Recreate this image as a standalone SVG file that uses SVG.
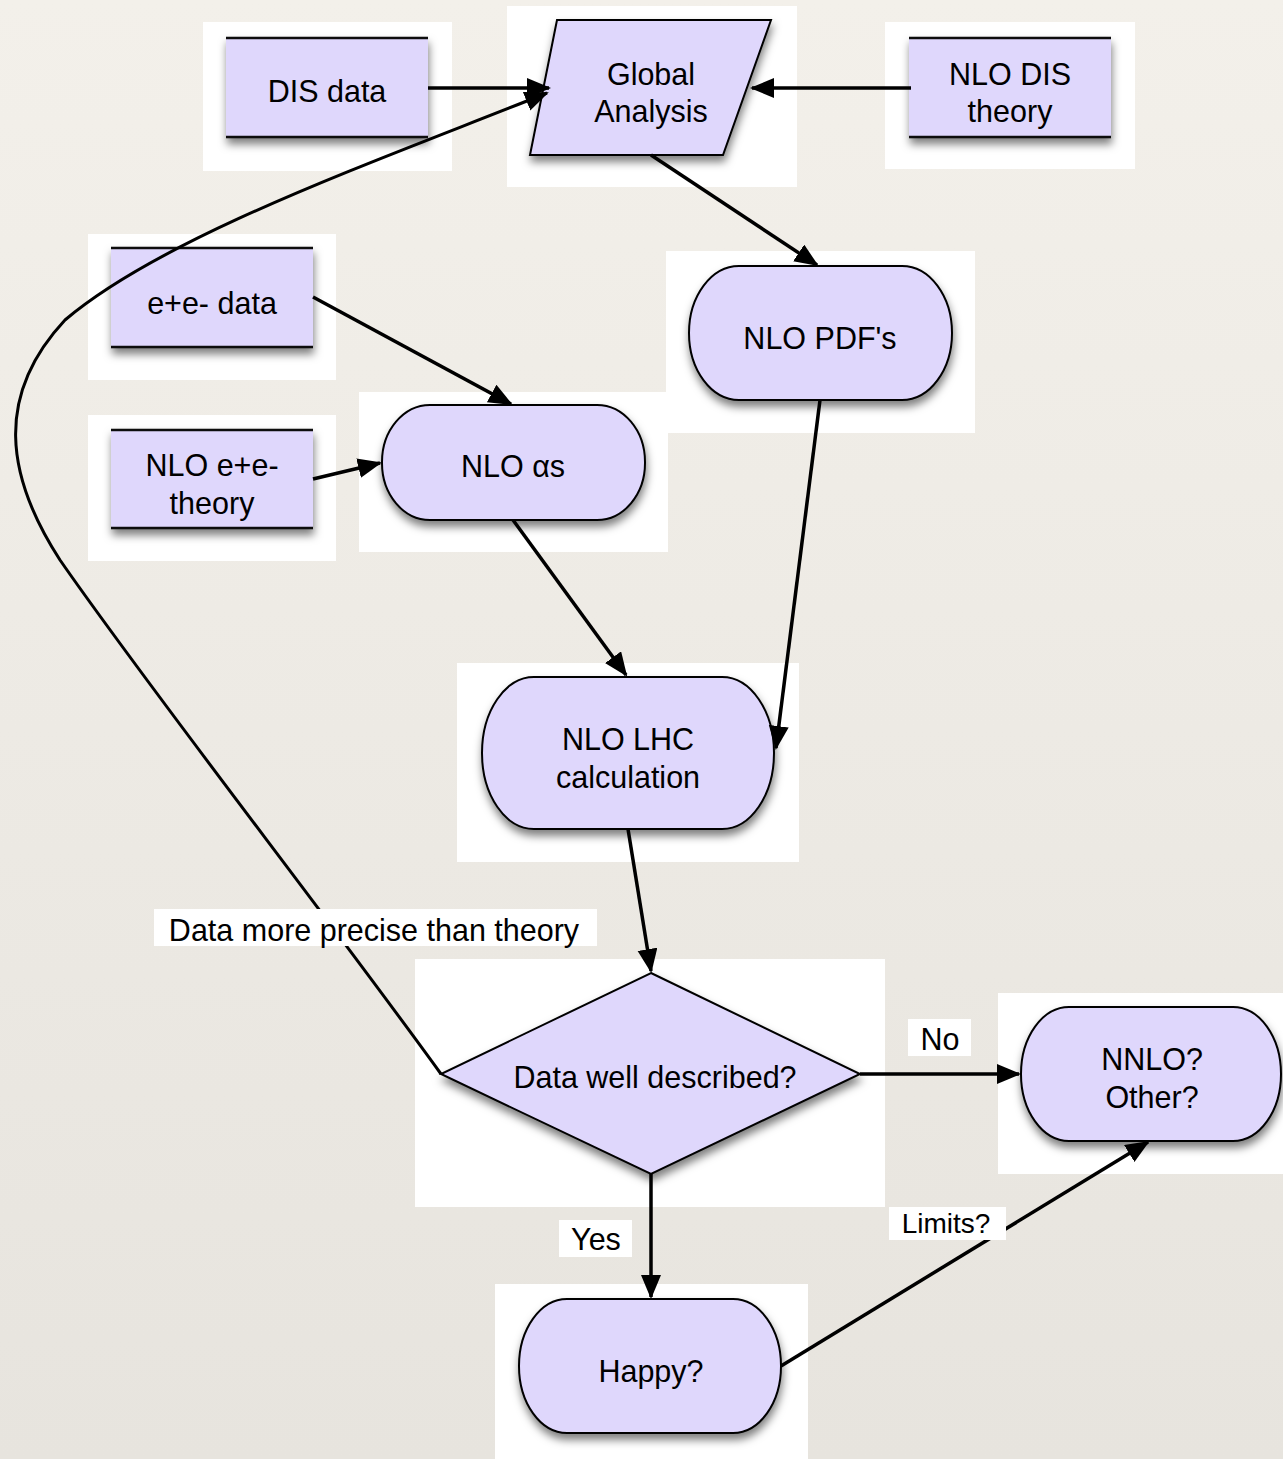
<svg xmlns="http://www.w3.org/2000/svg" width="1283" height="1459" viewBox="0 0 1283 1459">
<defs>
<linearGradient id="bgg" x1="0" y1="0" x2="0" y2="1">
<stop offset="0" stop-color="#f3f0ea"/>
<stop offset="1" stop-color="#e7e4de"/>
</linearGradient>
<filter id="sh" x="-10%" y="-10%" width="125%" height="135%">
<feDropShadow dx="1" dy="6" stdDeviation="4" flood-color="#000" flood-opacity="0.5"/>
</filter>
<marker id="ah" markerUnits="userSpaceOnUse" markerWidth="26" markerHeight="22" refX="22" refY="10" orient="auto">
<path d="M0,0 L24,10 L0,20 z" fill="#000"/>
</marker>
<style>
.bg{fill:#ffffff}
.fill{fill:#dfd7fc}
.shape{fill:#dfd7fc;stroke:#000;stroke-width:2}
.edge{stroke:#111;stroke-width:2.5}
.t{font-family:"Liberation Sans",Arial,Helvetica,sans-serif;font-size:30.5px;fill:#000;text-anchor:middle}
.ts{font-family:"Liberation Sans",Arial,Helvetica,sans-serif;font-size:28px;fill:#000;text-anchor:middle}
.c{fill:none;stroke:#000;stroke-width:3.5;marker-end:url(#ah)}
.cv{fill:none;stroke:#000;stroke-width:3;marker-end:url(#ah)}
</style>
</defs>
<rect x="0" y="0" width="1283" height="1459" fill="url(#bgg)"/>

<g id="node-dis-data">
<rect class="bg" x="203" y="22" width="249" height="149"/>
<g filter="url(#sh)"><rect class="fill" x="226" y="38" width="202" height="99"/>
<line class="edge" x1="226" y1="38" x2="428" y2="38"/><line class="edge" x1="226" y1="137" x2="428" y2="137"/></g>
<text class="t" x="327" y="102">DIS data</text>
</g>

<g id="node-global-analysis">
<rect class="bg" x="507" y="6" width="290" height="181"/>
<polygon class="shape" filter="url(#sh)" points="557,20 771,20 723,155 530,155"/>
<text class="t" x="651" y="85">Global</text>
<text class="t" x="651" y="122">Analysis</text>
</g>

<g id="node-nlo-dis-theory">
<rect class="bg" x="885" y="22" width="250" height="147"/>
<g filter="url(#sh)"><rect class="fill" x="909" y="38" width="202" height="99"/>
<line class="edge" x1="909" y1="38" x2="1111" y2="38"/><line class="edge" x1="909" y1="137" x2="1111" y2="137"/></g>
<text class="t" x="1010" y="85">NLO DIS</text>
<text class="t" x="1010" y="122">theory</text>
</g>

<g id="node-ee-data">
<rect class="bg" x="88" y="234" width="248" height="146"/>
<g filter="url(#sh)"><rect class="fill" x="111" y="248" width="202" height="99"/>
<line class="edge" x1="111" y1="248" x2="313" y2="248"/><line class="edge" x1="111" y1="347" x2="313" y2="347"/></g>
<text class="t" x="212" y="314">e+e- data</text>
</g>

<g id="node-nlo-ee-theory">
<rect class="bg" x="88" y="415" width="248" height="146"/>
<g filter="url(#sh)"><rect class="fill" x="111" y="430" width="202" height="98"/>
<line class="edge" x1="111" y1="430" x2="313" y2="430"/><line class="edge" x1="111" y1="528" x2="313" y2="528"/></g>
<text class="t" x="212" y="476">NLO e+e-</text>
<text class="t" x="212" y="514">theory</text>
</g>

<g id="node-nlo-as">
<rect class="bg" x="359" y="392" width="309" height="160"/>
<rect class="shape" filter="url(#sh)" x="382" y="405" width="263" height="115" rx="48" ry="57"/>
<text class="t" x="513" y="477">NLO αs</text>
</g>

<g id="node-nlo-pdfs">
<rect class="bg" x="666" y="251" width="309" height="182"/>
<rect class="shape" filter="url(#sh)" x="689" y="266" width="263" height="134" rx="50" ry="67"/>
<text class="t" x="820" y="349">NLO PDF's</text>
</g>

<g id="node-nlo-lhc">
<rect class="bg" x="457" y="663" width="342" height="199"/>
<rect class="shape" filter="url(#sh)" x="482" y="677" width="292" height="152" rx="52" ry="76"/>
<text class="t" x="628" y="750">NLO LHC</text>
<text class="t" x="628" y="788">calculation</text>
</g>

<g id="node-data-well-described">
<rect class="bg" x="415" y="959" width="470" height="248"/>
<polygon class="shape" filter="url(#sh)" points="651,973 860,1074 651,1174 441,1074"/>
<text class="t" x="655" y="1088">Data well described?</text>
</g>

<g id="node-nnlo">
<rect class="bg" x="998" y="993" width="285" height="181"/>
<rect class="shape" filter="url(#sh)" x="1021" y="1007" width="260" height="134" rx="48" ry="67"/>
<text class="t" x="1152" y="1070">NNLO?</text>
<text class="t" x="1152" y="1108">Other?</text>
</g>

<g id="node-happy">
<rect class="bg" x="495" y="1284" width="313" height="175"/>
<rect class="shape" filter="url(#sh)" x="519" y="1299" width="262" height="134" rx="48" ry="67"/>
<text class="t" x="651" y="1382">Happy?</text>
</g>

<g id="connectors">
<line class="c" x1="428" y1="88" x2="549" y2="88"/>
<line class="c" x1="911" y1="88" x2="752" y2="88"/>
<line class="c" x1="651" y1="155" x2="817" y2="265"/>
<line class="c" x1="313" y1="297" x2="511" y2="404"/>
<line class="c" x1="313" y1="479" x2="380" y2="463"/>
<line class="c" x1="513" y1="520" x2="626" y2="675"/>
<line class="c" x1="820" y1="400" x2="776" y2="748"/>
<line class="c" x1="628" y1="829" x2="651" y2="971"/>
<line class="c" x1="860" y1="1074" x2="1019" y2="1074"/>
<line class="c" x1="651" y1="1174" x2="651" y2="1297"/>
<line class="c" x1="781" y1="1366" x2="1148" y2="1142"/>
<path class="cv" d="M441,1074 C330,920 150,690 60,560 C5,475 -5,395 65,320 C165,235 380,160 547,93"/>
</g>

<g id="labels">
<rect class="bg" x="154" y="909" width="443" height="37"/>
<text class="t" x="374" y="941">Data more precise than theory</text>
<rect class="bg" x="908" y="1019" width="63" height="37"/>
<text class="t" x="940" y="1050">No</text>
<rect class="bg" x="559" y="1220" width="73" height="37"/>
<text class="t" x="596" y="1250">Yes</text>
<rect class="bg" x="889" y="1207" width="117" height="33"/>
<text class="ts" x="946" y="1233">Limits?</text>
</g>
</svg>
